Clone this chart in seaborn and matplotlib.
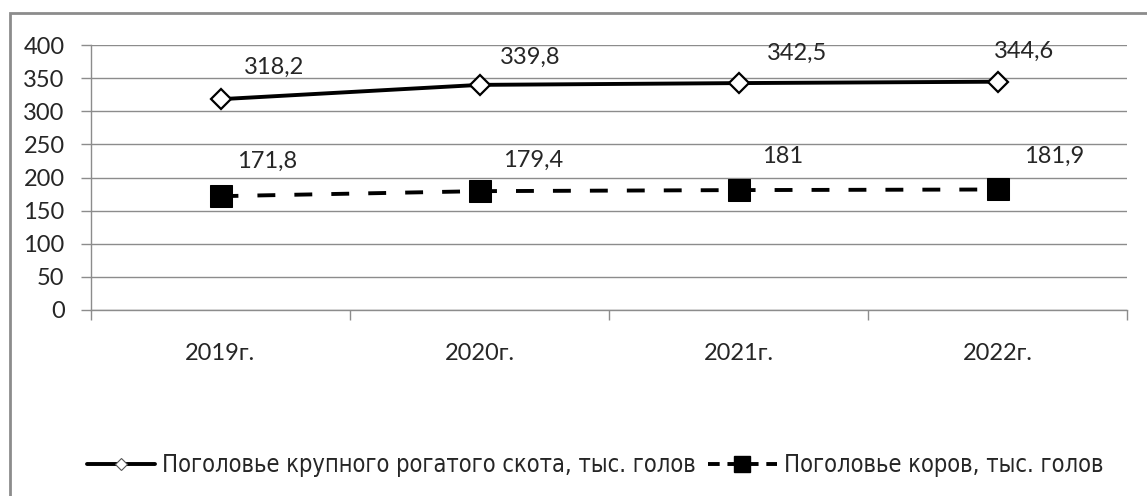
import seaborn as sns
import matplotlib.pyplot as plt
import pandas as pd
from matplotlib.patches import Rectangle
from matplotlib.lines import Line2D
from matplotlib.ticker import FixedLocator
from matplotlib import font_manager

years = ["2019г.", "2020г.", "2021г.", "2022г."]
cattle = [318.2, 339.8, 342.5, 344.6]
cows = [171.8, 179.4, 181.0, 181.9]
cattle_labels = ["318,2", "339,8", "342,5", "344,6"]
cows_labels = ["171,8", "179,4", "181", "181,9"]
cattle_name = "Поголовье крупного рогатого скота, тыс. голов"
cows_name = "Поголовье коров, тыс. голов"

# label offsets in pixels (dx, dy) from the point
cattle_off = [(54, 32), (51, 28), (59, 30), (27, 30)]
cows_off = [(47, 35), (54, 31), (44, 34), (57, 33)]

df = pd.DataFrame({"pos": range(len(years)), "cattle": cattle, "cows": cows})

sns.set_style("white")
plt.rcParams["font.family"] = ["Lato", "DejaVu Sans"]

names = {f.name for f in font_manager.fontManager.ttflist}
narrow = "Liberation Sans Narrow" if "Liberation Sans Narrow" in names else "DejaVu Sans"

fig = plt.figure(figsize=(11.47, 4.96), dpi=100)
ax = fig.add_axes([91 / 1147, 1 - 310 / 496, (1127 - 91) / 1147, (310 - 45) / 496])

# outer frame of the chart area
fig.patches.append(Rectangle((10 / 1147, -0.02), 1.05, 1 - 13 / 496 + 0.02,
                             transform=fig.transFigure, fill=False,
                             edgecolor="#8c8c8c", linewidth=2))

sns.lineplot(data=df, x="pos", y="cattle", ax=ax, color="black", linewidth=2.8,
             marker="D", markersize=10.5, markerfacecolor="white",
             markeredgecolor="black", markeredgewidth=1.6, zorder=3)
sns.lineplot(data=df, x="pos", y="cows", ax=ax, color="black", linewidth=2.8,
             linestyle=(0, (4.6, 4.9)), marker="s", markersize=15.5,
             markerfacecolor="black", markeredgecolor="black", zorder=3)

px = 72 / 100
for i in range(len(years)):
    ax.annotate(cattle_labels[i], (i, cattle[i]), xytext=(cattle_off[i][0] * px, cattle_off[i][1] * px),
                textcoords="offset points", ha="center", va="center", fontsize=17)
    ax.annotate(cows_labels[i], (i, cows[i]), xytext=(cows_off[i][0] * px, cows_off[i][1] * px),
                textcoords="offset points", ha="center", va="center", fontsize=17)

ax.set_xlim(-0.5, len(years) - 0.5)
ax.set_ylim(0, 400)
ax.set_yticks(range(0, 401, 50))
ax.yaxis.grid(True, color="#8c8c8c", linewidth=1)
ax.xaxis.grid(False)
ax.set_xticks(range(len(years)))
ax.set_xticklabels(years)
ax.xaxis.set_minor_locator(FixedLocator([i - 0.5 for i in range(len(years) + 1)]))
ax.tick_params(axis="x", which="major", length=0, pad=24, labelsize=17)
ax.tick_params(axis="x", which="minor", length=7, color="#8c8c8c", width=1, direction="out", bottom=True)
ax.tick_params(axis="y", length=7, color="#8c8c8c", width=1, direction="out", left=True, pad=12, labelsize=17)
ax.set_xlabel("")
ax.set_ylabel("")
for side in ["top", "right"]:
    ax.spines[side].set_visible(False)
for side in ["left", "bottom"]:
    ax.spines[side].set_color("#8c8c8c")
    ax.spines[side].set_linewidth(1)

# legend markers are drawn smaller than on the chart
handles = [Line2D([], [], color="black", linewidth=2.8, marker="D", markersize=6,
                  markerfacecolor="white", markeredgecolor="#555555", markeredgewidth=0.8),
           Line2D([], [], color="black", linewidth=2.8, linestyle=(0, (3, 2)), marker="s",
                  markersize=11, markerfacecolor="black")]
fig.legend(handles, [cattle_name, cows_name], loc="center", bbox_to_anchor=(595 / 1147, 1 - 465 / 496),
           ncol=2, frameon=False, handlelength=2.9, columnspacing=0.5, handletextpad=0.3,
           prop={"family": narrow, "stretch": "condensed", "size": 17})

fig.savefig("out.png", dpi=100)
